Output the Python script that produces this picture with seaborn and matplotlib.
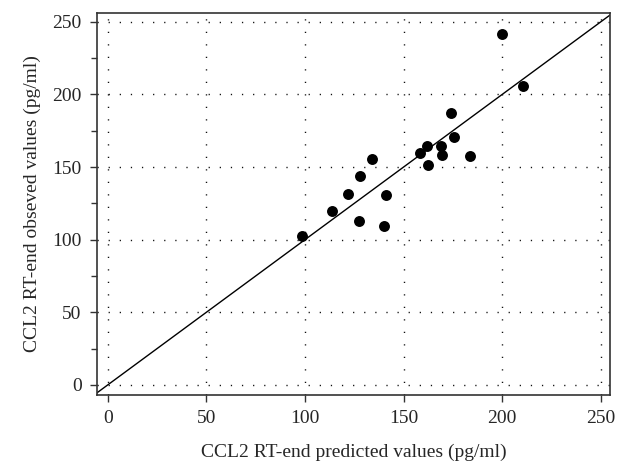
import matplotlib
matplotlib.use("Agg")
import matplotlib.pyplot as plt
from matplotlib.ticker import MultipleLocator
import seaborn as sns
import pandas as pd

predicted = [199.8, 210.7, 174.0, 175.4, 161.7, 169.1, 158.4, 169.6, 183.6, 162.2,
             134.0, 128.0, 121.8, 141.1, 113.5, 127.5, 140.0, 98.3]
observed = [241.4, 205.5, 187.0, 170.9, 164.7, 164.5, 159.5, 158.3, 157.6, 151.6,
            155.5, 144.0, 131.7, 130.5, 120.0, 112.9, 109.4, 102.5]
ticks = [0, 50, 100, 150, 200, 250]
xlabel = "CCL2 RT-end predicted values (pg/ml)"
ylabel = "CCL2 RT-end obseved values (pg/ml)"

sns.set_style("white")
plt.rcParams['font.family'] = ['Liberation Serif', 'DejaVu Serif']

df = pd.DataFrame({"pred": predicted, "obs": observed})

fig = plt.figure(figsize=(6.18, 4.61), dpi=100)
ax = fig.add_axes([97/618, 1 - 395/461, (610-97)/618, (395-13)/461])

sns.scatterplot(data=df, x="pred", y="obs", ax=ax, color="black", s=62,
                edgecolor="black", linewidth=0, zorder=3)
ax.axline((0, 0), slope=1, color="black", linewidth=1.0, zorder=2)

ax.set_xlim(-5.4, 254.6)
ax.set_ylim(-6.9, 256)
ax.set_xticks(ticks)
ax.set_yticks(ticks)
ax.yaxis.set_minor_locator(MultipleLocator(25))

for t in ticks:
    ax.axhline(t, color="#111111", linewidth=1.0, linestyle=(0, (0.9, 7.1)), zorder=1)
    ax.axvline(t, color="#111111", linewidth=1.0, linestyle=(0, (0.9, 8.1)), zorder=1)

for s in ax.spines.values():
    s.set_color("#333333")
    s.set_linewidth(1.2)

ax.tick_params(axis="both", which="major", direction="out", length=5, width=1.0,
               color="#333333", labelsize=14, pad=6, left=True, bottom=True)
ax.tick_params(axis="y", which="minor", direction="out", length=4, width=1.0,
               color="#333333", left=True)

ax.set_xlabel(xlabel, fontsize=14, labelpad=12)
ax.set_ylabel(ylabel, fontsize=14, labelpad=8)

fig.savefig("out.png", dpi=100)
